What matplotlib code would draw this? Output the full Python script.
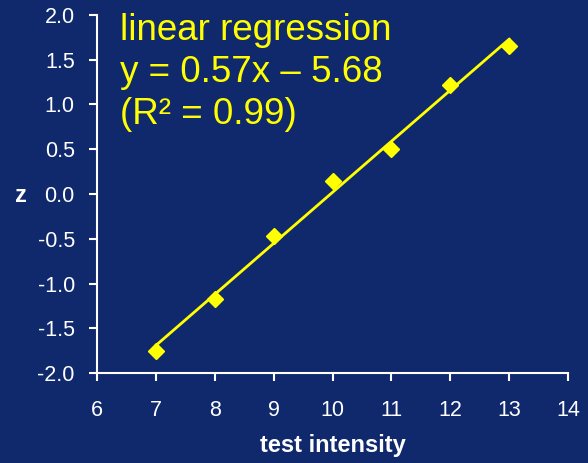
import numpy as np
import matplotlib
matplotlib.use("Agg")
import matplotlib.pyplot as plt

# data
intensity = [7, 8, 9, 10, 11, 12, 13]
z_scores = [-1.75, -1.17, -0.47, 0.15, 0.50, 1.22, 1.65]
x_ticks = [6, 7, 8, 9, 10, 11, 12, 13, 14]
y_ticks = [-2.0, -1.5, -1.0, -0.5, 0.0, 0.5, 1.0, 1.5, 2.0]

bg = "#10296d"
yellow = "#ffff00"

plt.rcParams["font.family"] = ["Liberation Sans", "DejaVu Sans"]

fig = plt.figure(figsize=(5.88, 4.63), dpi=100, facecolor=bg)
ax = fig.add_axes([0.165, 0.194, 0.801, 0.774], facecolor=bg)

# fit line
slope, icpt = np.polyfit(intensity, z_scores, 1)
xs = np.array([intensity[0], intensity[-1]])
ax.plot(xs, slope * xs + icpt, color=yellow, lw=2.0, zorder=2)
ax.plot(intensity, z_scores, linestyle="none", marker="D", ms=8,
        color=yellow, zorder=3, clip_on=False)

ax.set_xlim(6, 14)
ax.set_ylim(-2, 2)
ax.set_xticks(x_ticks)
ax.set_yticks(y_ticks)
ax.set_yticklabels([f"{v:.1f}" for v in y_ticks])

for s in ["top", "right"]:
    ax.spines[s].set_visible(False)
for s in ["left", "bottom"]:
    ax.spines[s].set_color("white")
    ax.spines[s].set_linewidth(1.5)
ax.tick_params(colors="white", labelsize=15.5, width=1.5, length=6, direction="out")
ax.tick_params(axis="x", pad=13)
ax.tick_params(axis="y", pad=10)

ax.set_xlabel("test intensity", color="white", fontsize=17, fontweight="bold", labelpad=10)
fig.text(0.035, 0.577, "z", color="white", fontsize=17, fontweight="bold",
         ha="center", va="center")

ax.text(0.049, 1.005, "linear regression\ny = 0.57x \u2013 5.68\n(R\u00b2 = 0.99)",
        transform=ax.transAxes, color=yellow, fontsize=26.5, va="top", ha="left",
        linespacing=1.25)

fig.savefig("out.png", dpi=100, facecolor=bg)
